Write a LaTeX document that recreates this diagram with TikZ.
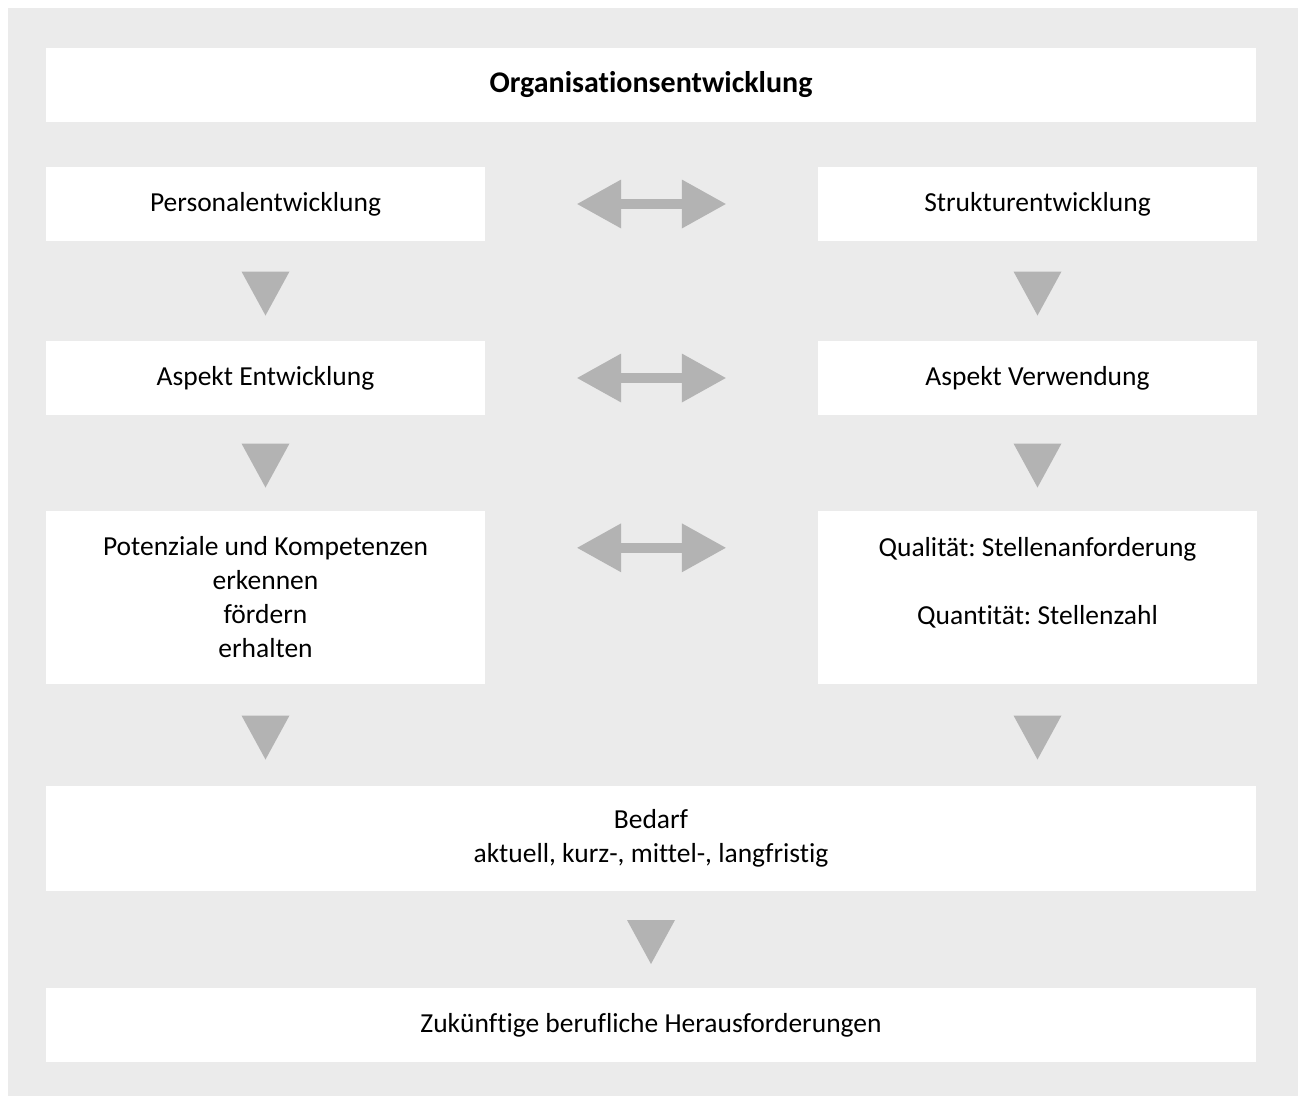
\documentclass[tikz,border=0pt]{standalone}
\usepackage{fontspec}
\setmainfont{Carlito}[Ligatures=NoCommon]
\usetikzlibrary{arrows.meta,calc}

\definecolor{bggray}{RGB}{235,235,235}
\definecolor{arrgray}{RGB}{179,179,179}

\tikzset{
	box/.style={fill=white, minimum width=439pt, minimum height=74pt, inner sep=0pt, align=center, font=\fontsize{27.5}{34}\selectfont\frenchspacing},
	widebox/.style={box, minimum width=1210pt},
	dblarrow/.style={draw=arrgray, line width=10pt, {Triangle[length=44pt,width=49pt,line width=0pt]}-{Triangle[length=44pt,width=49pt,line width=0pt]}, shorten <=92pt, shorten >=92pt},
	tri/.style={fill=arrgray}
}

\begin{document}
\begin{tikzpicture}[x=1pt,y=1pt]
			\useasboundingbox (0,0) rectangle (1298,-1096);
			\fill[bggray] (8,-8) rectangle (1298,-1096);
			% boxes
			\node[widebox, font=\fontsize{30}{34}\selectfont\bfseries] (oe) at (651,-85) {Organisationsentwicklung};
			\node[box] (pe) at (265.5,-204) {Personalentwicklung};
			\node[box] (se) at (1037.5,-204) {Strukturentwicklung};
			\node[box] (ae) at (265.5,-378) {Aspekt Entwicklung};
			\node[box] (av) at (1037.5,-378) {Aspekt Verwendung};
			\node[box, minimum height=173pt] (pk) at (265.5,-597.5) {Potenziale und Kompetenzen\\ erkennen\\ fördern\\ erhalten};
			\node[box, minimum height=173pt] (qs) at (1037.5,-597.5) {Qualität: Stellenanforderung\\ \mbox{}\\ Quantität: Stellenzahl\\ \mbox{}};
			\node[widebox, minimum height=105pt] (bd) at (651,-838.5) {Bedarf\\ aktuell, kurz-, mittel-, langfristig};
			\node[widebox] (zh) at (651,-1025) {Zukünftige berufliche Herausforderungen};
			% double arrows
			\draw[dblarrow] (pe.east) -- (se.west);
			\draw[dblarrow] (ae.east) -- (av.west);
			\draw[dblarrow] ($(pk.north east)+(0,-37)$) -- ($(qs.north west)+(0,-37)$);
			% down triangles
			\fill[tri, shift={($(pe.south)!.5!(ae.north)+(0,-2.5)$)}] (-24,22) -- (24,22) -- (0,-22) -- cycle;
			\fill[tri, shift={($(se.south)!.5!(av.north)+(0,-2.5)$)}] (-24,22) -- (24,22) -- (0,-22) -- cycle;
			\fill[tri, shift={($(ae.south)!.5!(pk.north)+(0,-2.5)$)}] (-24,22) -- (24,22) -- (0,-22) -- cycle;
			\fill[tri, shift={($(av.south)!.5!(qs.north)+(0,-2.5)$)}] (-24,22) -- (24,22) -- (0,-22) -- cycle;
			\fill[tri, shift={($(pk.south)!.5!(pk.south |- bd.north)+(0,-2.5)$)}] (-24,22) -- (24,22) -- (0,-22) -- cycle;
			\fill[tri, shift={($(qs.south)!.5!(qs.south |- bd.north)+(0,-2.5)$)}] (-24,22) -- (24,22) -- (0,-22) -- cycle;
			\fill[tri, shift={($(bd.south)!.5!(zh.north)+(0,-2.5)$)}] (-24,22) -- (24,22) -- (0,-22) -- cycle;
\end{tikzpicture}
\end{document}
